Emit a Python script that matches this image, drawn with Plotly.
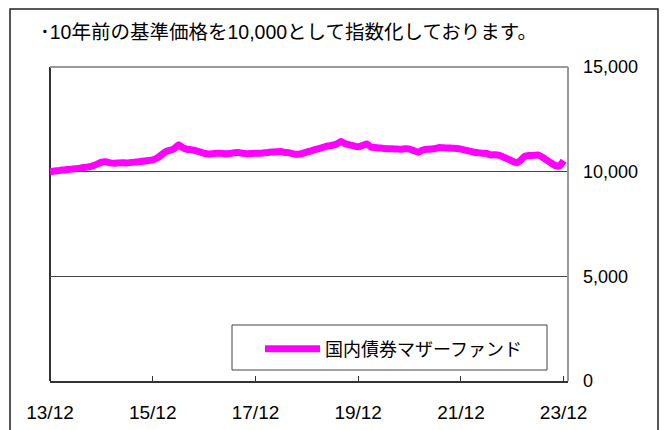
import pandas as pd
import plotly.graph_objects as go

# ---- data ----
months = pd.date_range("2013-12-01", periods=121, freq="MS")
values = [
    10000, 10030, 10050, 10080, 10100, 10120, 10140, 10170, 10200, 10230,
    10280, 10360, 10450, 10470, 10420, 10400, 10420, 10430, 10410, 10440,
    10460, 10480, 10510, 10530, 10560, 10650, 10800, 10950, 11020, 11100,
    11280, 11150, 11070, 11050, 11000, 10950, 10880, 10840, 10860, 10880,
    10880, 10850, 10870, 10900, 10910, 10880, 10850, 10870, 10880, 10880,
    10900, 10920, 10940, 10950, 10960, 10920, 10900, 10840, 10830, 10870,
    10940, 10990, 11060, 11110, 11170, 11230, 11260, 11320, 11440, 11330,
    11280, 11230, 11190, 11250, 11320, 11180, 11150, 11130, 11110, 11100,
    11090, 11080, 11070, 11090, 11080, 11000, 10930, 11020, 11070, 11080,
    11110, 11150, 11140, 11130, 11120, 11110, 11080, 11030, 10980, 10930,
    10910, 10880, 10870, 10800, 10810, 10780, 10690, 10600, 10500, 10430,
    10560, 10740, 10770, 10780, 10800, 10700, 10560, 10420, 10300, 10270,
    10530,
]
series_name = "国内債券マザーファンド"
x_tick_dates = ["2013-12-01", "2015-12-01", "2017-12-01", "2019-12-01", "2021-12-01", "2023-12-01"]
x_tick_labels = ["13/12", "15/12", "17/12", "19/12", "21/12", "23/12"]
y_tick_vals = [0, 5000, 10000, 15000]
y_tick_labels = ["0", "5,000", "10,000", "15,000"]
title_text = "･10年前の基準価格を10,000として指数化しております。"

FONT = "Liberation Sans, Arial, Noto Sans CJK JP, sans-serif"

# the page body has an 8px default margin, so the figure is drawn 8px in
OFF = 8
W, H = 667 - OFF, 430 - OFF
# plot area in page pixels: left 50, right 568, top 67, bottom 381
ML, MT = 50 - OFF, 67 - OFF
MR = (W + OFF) - 568
MB = (H + OFF) - 381
PW, PH = W - ML - MR, H - MT - MB


def px(xp):  # page x pixel -> paper
    return (xp - OFF - ML) / PW


def py(yp):  # page y pixel -> paper
    return (H - MB - (yp - OFF)) / PH


fig = go.Figure()
fig.add_trace(go.Scatter(
    x=months, y=values, mode="lines", name=series_name,
    line=dict(color="#FF00FF", width=7, shape="spline", smoothing=0.5),
))

shapes = [
    # outer frame
    dict(type="rect", xref="paper", yref="paper", x0=px(10), x1=px(658), y0=py(460), y1=py(9),
         line=dict(color="#222222", width=1.5), fillcolor="rgba(0,0,0,0)", layer="below"),
    # plot frame: top & right gray, left dark
    dict(type="line", xref="paper", yref="paper", x0=0, x1=1, y0=1, y1=1,
         line=dict(color="#999999", width=2), layer="above"),
    dict(type="line", xref="paper", yref="paper", x0=1, x1=1, y0=0, y1=1,
         line=dict(color="#999999", width=2), layer="above"),
    dict(type="line", xref="paper", yref="paper", x0=0, x1=0, y0=0, y1=1,
         line=dict(color="#333333", width=2), layer="below"),
    # legend box
    dict(type="rect", xref="paper", yref="paper", x0=px(232), x1=px(547), y0=py(370), y1=py(325),
         line=dict(color="#444444", width=1), fillcolor="white", layer="above"),
]

fig.update_layout(
    width=W, height=H,
    margin=dict(l=ML, r=MR, t=MT, b=MB, autoexpand=False),
    paper_bgcolor="white", plot_bgcolor="white",
    font=dict(family=FONT, size=17, color="black"),
    showlegend=True,
    legend=dict(
        x=px(260), xanchor="left", y=py(349), yanchor="middle",
        bgcolor="rgba(0,0,0,0)", borderwidth=0,
        font=dict(family=FONT, size=18, color="black"),
        itemwidth=55,
    ),
    shapes=shapes,
    annotations=[dict(
        text=title_text, xref="paper", yref="paper", x=px(38), y=py(32),
        xanchor="left", yanchor="middle", showarrow=False,
        font=dict(family=FONT, size=19.5, color="black"),
    )],
    xaxis=dict(
        range=["2013-12-01", "2024-01-01"],
        tickvals=x_tick_dates, ticktext=x_tick_labels,
        ticks="inside", ticklen=5, tickcolor="#333333", tickwidth=1,
        showgrid=False, zeroline=False,
        showline=True, linecolor="#333333", linewidth=2,
        ticklabelstandoff=13,
        tickfont=dict(family=FONT, size=19, color="black"),
    ),
    yaxis=dict(
        side="right", range=[0, 15000],
        tickvals=y_tick_vals, ticktext=y_tick_labels,
        showgrid=True, gridcolor="#444444", gridwidth=1,
        zeroline=False, showline=False, ticks="",
        ticklabelstandoff=14,
        tickfont=dict(family=FONT, size=18, color="black"),
    ),
)

fig.write_html("out.html")
